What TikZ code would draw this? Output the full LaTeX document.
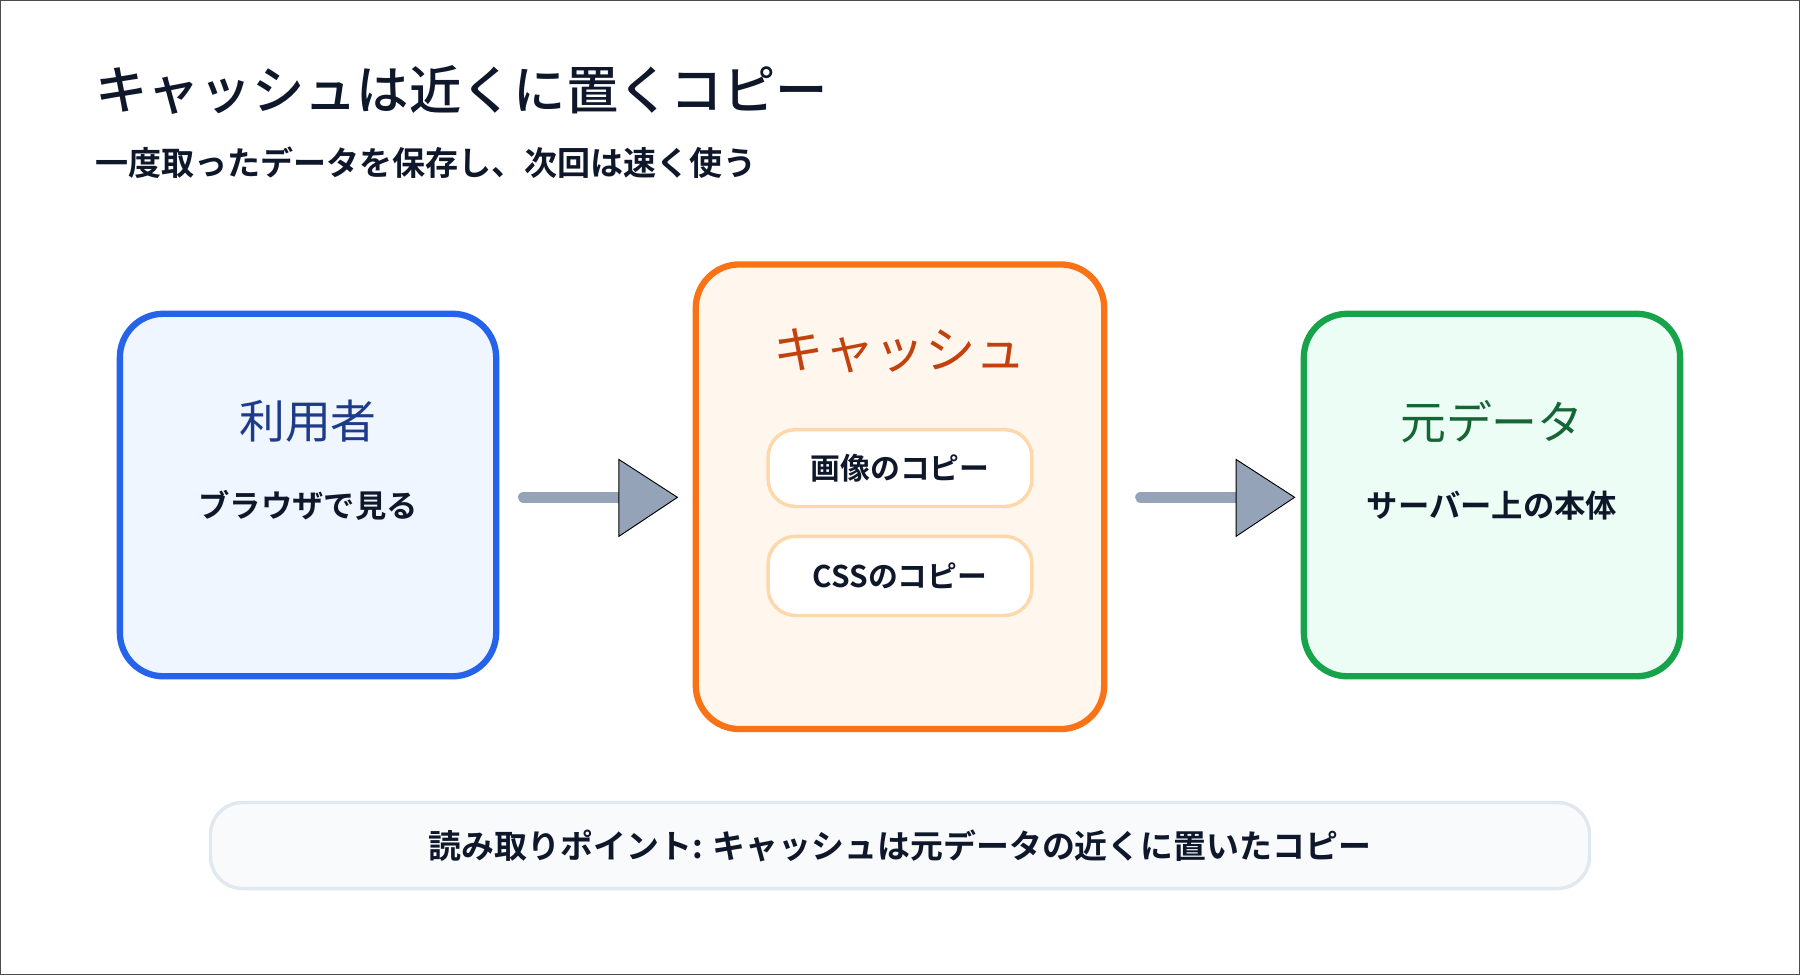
\documentclass[tikz,border=0pt]{standalone}
\usepackage{fontspec}
\setmainfont{Noto Sans CJK JP}[BoldFont={* Bold}]
\newfontfamily\jpmed{Noto Sans CJK JP Medium}
\begin{document}
\begin{tikzpicture}[x=1pt,y=-1pt,
  bigbox/.style={line width=5.5pt,rounded corners=38pt},
  inner/.style={line width=3pt,fill=white,rounded corners=24pt},
  shaft/.style={line width=10pt,line cap=round,draw=arrowgray},
  head/.style={fill=arrowgray,draw=black,line width=0.8pt},
  lbl/.style={font=\bfseries\fontsize{27.3}{32}\selectfont,text=ink}]
\definecolor{ink}{HTML}{0F172A}
\definecolor{arrowgray}{HTML}{94A3B8}
\definecolor{bluec}{HTML}{2563EB}\definecolor{bluef}{HTML}{EFF6FF}\definecolor{bluet}{HTML}{1E3A8A}
\definecolor{orc}{HTML}{F97316}\definecolor{orf}{HTML}{FFF7ED}\definecolor{ort}{HTML}{C2410C}
\definecolor{grc}{HTML}{16A34A}\definecolor{grf}{HTML}{ECFDF5}\definecolor{grt}{HTML}{166534}
\definecolor{pnl}{HTML}{F8FAFC}\definecolor{pnlb}{HTML}{E2E8F0}
\definecolor{innb}{HTML}{FED7AA}
\draw[fill=white,draw=black!70,line width=1pt] (0,0) rectangle (1568,849);
\useasboundingbox (0,0) rectangle (1568,849);
\node[anchor=west,text=ink,font=\jpmed\fontsize{45.6}{52}\selectfont] (title) at (79,78) {キャッシュは近くに置くコピー};
\node[anchor=west,text=ink,font=\bfseries\fontsize{28.8}{34}\selectfont] (sub) at (79,141) {一度取ったデータを保存し、次回は速く使う};
% boxes
\draw[bigbox,draw=bluec,fill=bluef] (104,273) rectangle (432,589);
\node[text=bluet,font=\fontsize{40}{46}\selectfont] (u) at (268,367) {利用者};
\node[lbl] (u2) at (268,440) {ブラウザで見る};
\draw[bigbox,draw=orc,fill=orf] (606,230) rectangle (962,635);
\node[text=ort,font=\fontsize{44}{50}\selectfont] (c) at (784,305) {キャッシュ};
\draw[inner,draw=innb] (669,374) rectangle (899,441);
\node[lbl,font=\bfseries\fontsize{26}{30}\selectfont] (i1) at (784,408) {画像のコピー};
\draw[inner,draw=innb] (669,467) rectangle (899,536);
\node[lbl,font=\bfseries\fontsize{26}{30}\selectfont] (i2) at (784,501) {CSSのコピー};
\draw[bigbox,draw=grc,fill=grf] (1136,273) rectangle (1464,589);
\node[text=grt,font=\fontsize{40}{46}\selectfont] (o) at (1300,367) {元データ};
\node[lbl] (o2) at (1300,440) {サーバー上の本体};
% arrows
\coordinate (a1s) at (456,433); \coordinate (a1e) at (540,433);
\draw[shaft] (a1s) -- (a1e);
\draw[head] (539,400) -- (590,433) -- (539,467) -- cycle;
\coordinate (a2s) at (994,433); \coordinate (a2e) at (1078,433);
\draw[shaft] (a2s) -- (a2e);
\draw[head] (1077,400) -- (1128,433) -- (1077,467) -- cycle;
% bottom
\draw[draw=pnlb,fill=pnl,line width=3pt,rounded corners=28pt] (183,699) rectangle (1385,774);
\node[lbl,font=\bfseries\fontsize{28.7}{33}\selectfont] (b) at (784,737) {読み取りポイント: キャッシュは元データの近くに置いたコピー};
\end{tikzpicture}
\end{document}
